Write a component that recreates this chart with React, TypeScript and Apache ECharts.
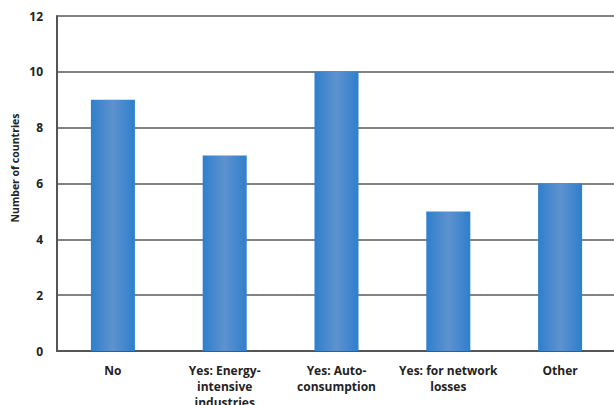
import React, { useEffect, useRef } from "react";
import * as echarts from "echarts";

const categories = [
  "No",
  "Yes: Energy-\nintensive\nindustries",
  "Yes: Auto-\nconsumption",
  "Yes: for network\nlosses",
  "Other",
];
const values = [9, 7, 10, 5, 6];
const yTicks = { min: 0, max: 12, interval: 2 };
const yAxisTitle = "Number of countries";

export default function App() {
  const ref = useRef<HTMLDivElement>(null);
  useEffect(() => {
    document.body.style.margin = "0";
    const chart = echarts.init(ref.current!, null, { renderer: "svg" });
    const font = "'Open Sans', 'Liberation Sans', sans-serif";
    chart.setOption({
      animation: false,
      backgroundColor: "#ffffff",
      grid: {
        left: 57,
        right: -2,
        top: 16,
        bottom: 54,
        containLabel: false,
        outerBoundsMode: "none",
      },
      graphic: [
        {
          type: "text",
          x: 15,
          y: 168,
          rotation: Math.PI / 2,
          style: {
            text: yAxisTitle,
            fill: "#222",
            font: "bold 10.5px 'Open Sans', sans-serif",
            align: "center",
            verticalAlign: "middle",
          },
        },
      ],
      xAxis: {
        type: "category",
        data: categories,
        axisLine: { show: true, lineStyle: { color: "#555", width: 2 } },
        axisTick: { show: false },
        axisLabel: {
          interval: 0,
          color: "#222",
          fontFamily: font,
          fontWeight: "bold",
          fontSize: 12,
          lineHeight: 16,
          margin: 11,
        },
      },
      yAxis: {
        type: "value",
        min: yTicks.min,
        max: yTicks.max,
        interval: yTicks.interval,
        axisLine: { show: true, lineStyle: { color: "#555", width: 2 } },
        axisTick: { show: false },
        axisLabel: { color: "#222", fontFamily: font, fontWeight: "bold", fontSize: 12, margin: 14 },
        splitLine: { show: true, lineStyle: { color: "#5a5a5a", width: 1.6 } },
      },
      series: [
        {
          type: "bar",
          data: values,
          barWidth: 44,
          itemStyle: {
            color: new echarts.graphic.LinearGradient(0, 0, 1, 0, [
              { offset: 0, color: "#2e7fcc" },
              { offset: 0.5, color: "#5e92cf" },
              { offset: 1, color: "#2e7fcc" },
            ]),
          },
        },
      ],
    });
    return () => chart.dispose();
  }, []);
  return <div ref={ref} style={{ width: 614, height: 405 }} />;
}
